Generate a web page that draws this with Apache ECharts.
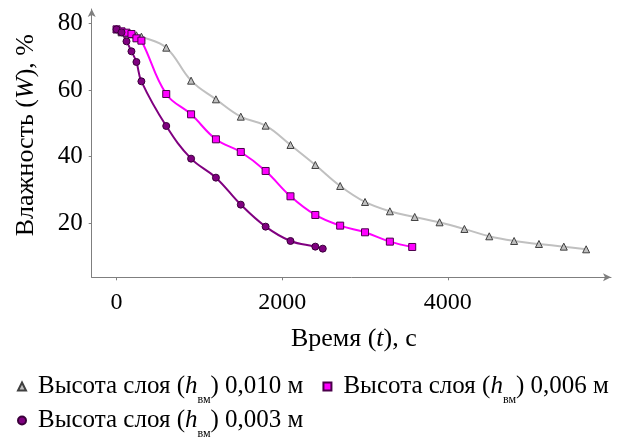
<!DOCTYPE html>
<html>
<head>
<meta charset="utf-8">
<script src="https://cdn.jsdelivr.net/npm/echarts@6/dist/echarts.min.js"></script>
<style>
  html, body { margin: 0; padding: 0; background: #ffffff; }
  #chart { width: 628px; height: 439px; }
</style>
</head>
<body>
<div id="chart"></div>
<script>
// Drying curves: moisture content versus time for three layer heights
const layerHeights = ['0,010', '0,006', '0,003'];
const seriesNames = layerHeights.map(h => 'Высота слоя (hвм) ' + h + ' м');

const time010 = [0, 60, 120, 180, 240, 300, 600, 900, 1200, 1500, 1800, 2100, 2400, 2700, 3000, 3300, 3600, 3900, 4200, 4500, 4800, 5100, 5400, 5670];
const moist010 = [78.2, 77.3, 77.0, 76.7, 76.4, 76.0, 72.7, 62.8, 57.2, 52.0, 49.3, 43.5, 37.5, 31.2, 26.4, 23.6, 21.9, 20.3, 18.3, 16.1, 14.7, 13.8, 13.0, 12.2];

const time006 = [0, 60, 120, 180, 240, 300, 600, 900, 1200, 1500, 1800, 2100, 2400, 2700, 3000, 3300, 3570];
const moist006 = [78.2, 77.6, 77.2, 76.8, 75.5, 74.8, 58.8, 52.7, 45.2, 41.4, 35.7, 28.1, 22.5, 19.3, 17.3, 14.5, 12.9];

const time003 = [0, 60, 120, 180, 240, 300, 600, 900, 1200, 1500, 1800, 2100, 2400, 2490];
const moist003 = [78.2, 77.3, 74.6, 71.6, 68.4, 62.6, 49.2, 39.4, 33.7, 25.6, 19.0, 14.7, 13.0, 12.4];

const xTicks = [0, 2000, 4000];
const yTicks = [20, 40, 60, 80];

const serif = '"Liberation Serif", "Times New Roman", serif';
const axisColor = '#7f7f7f';

function pairs(xs, ys) {
  return xs.map((x, i) => [x, ys[i]]);
}

function legendLabel(name) {
  const i = seriesNames.indexOf(name);
  return '{t|Высота слоя (}{i|h}{s|вм}{t|) ' + layerHeights[i] + ' м}';
}

const legendRich = {
  t: { fontFamily: serif, fontSize: 25, color: '#000', lineHeight: 38 },
  i: { fontFamily: serif, fontSize: 25, fontStyle: 'italic', color: '#000', lineHeight: 38 },
  s: { fontFamily: serif, fontSize: 12, color: '#000', lineHeight: 12, verticalAlign: 'bottom' }
};

function legendBlock(items, top) {
  return {
    data: items,
    left: 12,
    top: top,
    orient: 'horizontal',
    itemGap: 19,
    itemWidth: 8,
    itemHeight: 8,
    selectedMode: false,
    formatter: legendLabel,
    textStyle: { padding: [0, 0, 0, 7], rich: legendRich }
  };
}

const markers = [
  { symbol: 'triangle', line: '#c0c0c0', fill: '#c0c0c0', border: '#404040' },
  { symbol: 'rect', line: '#ff00ff', fill: '#ff00ff', border: '#4a004a' },
  { symbol: 'circle', line: '#800080', fill: '#800080', border: '#3a003a' }
];
const seriesData = [pairs(time010, moist010), pairs(time006, moist006), pairs(time003, moist003)];

const chart = echarts.init(document.getElementById('chart'), null, { renderer: 'canvas' });

chart.setOption({
  animation: false,
  backgroundColor: '#ffffff',
  grid: { left: 91.7, right: 17, top: 9, bottom: 161.7 },
  legend: [
    legendBlock([{ name: seriesNames[0], icon: 'triangle' }, { name: seriesNames[1], icon: 'rect' }], 369),
    legendBlock([{ name: seriesNames[2], icon: 'circle' }], 403)
  ],
  xAxis: {
    type: 'value',
    min: -300,
    max: 5970,
    axisLine: { show: true, onZero: false, symbol: ['none', 'arrow'], symbolSize: [6, 8], lineStyle: { color: axisColor, width: 1 } },
    axisTick: { show: true, customValues: xTicks, length: 3, lineStyle: { color: axisColor } },
    axisLabel: { customValues: xTicks, fontFamily: serif, fontSize: 24, color: '#000', margin: 13, formatter: v => String(v) },
    splitLine: { show: false },
    name: '{t|Время (}{i|t}{t|), с}',
    nameLocation: 'middle',
    nameGap: 49,
    nameTextStyle: {
      padding: [0, 0, 0, 5],
      rich: {
        t: { fontFamily: serif, fontSize: 26, color: '#000' },
        i: { fontFamily: serif, fontSize: 26, fontStyle: 'italic', color: '#000' }
      }
    }
  },
  yAxis: {
    type: 'value',
    min: 3.8,
    max: 84.3,
    axisLine: { show: true, onZero: false, symbol: ['none', 'arrow'], symbolSize: [6, 8], lineStyle: { color: axisColor, width: 1 } },
    axisTick: { show: true, customValues: yTicks, length: 3, lineStyle: { color: axisColor } },
    axisLabel: { customValues: yTicks, fontFamily: serif, fontSize: 25, color: '#000', margin: 9, formatter: v => String(v) },
    splitLine: { show: false },
    name: '{t|Влажность (}{i|W}{t|), %}',
    nameLocation: 'middle',
    nameRotate: 90,
    nameGap: 53,
    nameTextStyle: {
      padding: [0, 0, 0, 16],
      rich: {
        t: { fontFamily: serif, fontSize: 26, color: '#000' },
        i: { fontFamily: serif, fontSize: 26, fontStyle: 'italic', color: '#000' }
      }
    }
  },
  series: seriesData.map((data, k) => ({
    name: seriesNames[k],
    type: 'line',
    data: data,
    smooth: 0.4,
    symbol: markers[k].symbol,
    symbolSize: 7,
    showSymbol: true,
    lineStyle: { color: markers[k].line, width: 2 },
    itemStyle: { color: markers[k].fill, borderColor: markers[k].border, borderWidth: 1 },
    emphasis: { disabled: true }
  }))
});
</script>
</body>
</html>
